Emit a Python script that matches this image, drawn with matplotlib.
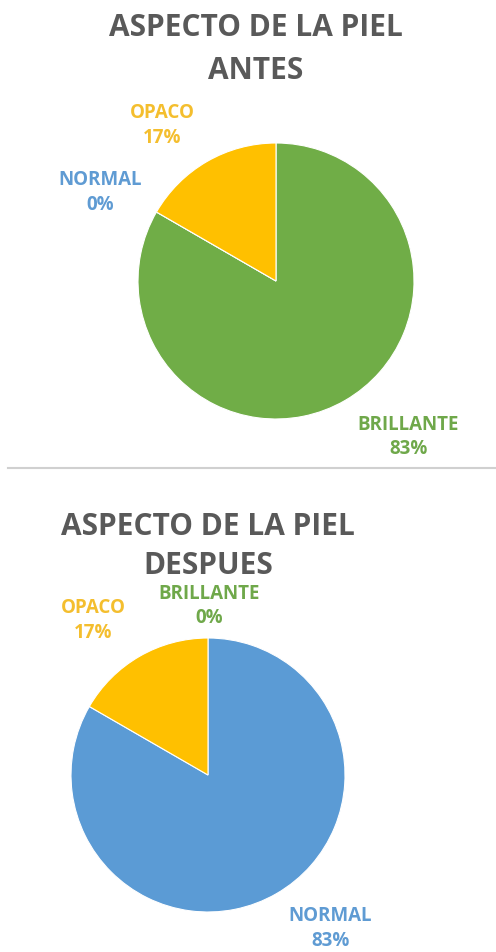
import matplotlib.pyplot as plt
from matplotlib.lines import Line2D

# datos (mismo orden que la hoja de Excel)
categorias = ["BRILLANTE", "NORMAL", "OPACO"]
antes = [83.33, 0.0, 16.67]
despues = [0.0, 83.33, 16.67]
colores = {"BRILLANTE": "#70AD47", "NORMAL": "#5B9BD5", "OPACO": "#FFC000"}
colores_txt = {"BRILLANTE": "#6FA84A", "NORMAL": "#5F9BD3", "OPACO": "#F4BE2E"}

plt.rcParams["font.family"] = ["Open Sans", "DejaVu Sans"]

W, H = 496, 952
fig = plt.figure(figsize=(W / 100, H / 100), dpi=100)


def eje_pie(cx, cy, r):
    # cuadrado en pixeles centrado en (cx, cy)
    return fig.add_axes([(cx - r) / W, (H - cy - r) / H, 2 * r / W, 2 * r / H])


def torta(ax, valores, pos_etiquetas):
    ax.pie(
        valores,
        colors=[colores[c] for c in categorias],
        startangle=90,
        counterclock=False,
        radius=1,
        wedgeprops=dict(linewidth=0.8, edgecolor="white"),
    )
    ax.set_xlim(-1, 1)
    ax.set_ylim(-1, 1)
    ax.set_aspect("auto")
    ax.axis("off")
    for cat, val in zip(categorias, valores):
        x, y = pos_etiquetas[cat]
        ax.text(x, y, f"{cat}\n{val:.0f}%", ha="center", va="center",
                fontsize=13.5, fontweight="bold", color=colores_txt[cat],
                linespacing=1.3, clip_on=False)


def titulo(cx, y1, y2, linea2):
    fig.text(cx / W, 1 - y1 / H, "ASPECTO DE LA PIEL", ha="center", va="center",
             fontsize=21.5, fontweight="bold", color="#595959")
    fig.text(cx / W, 1 - y2 / H, linea2, ha="center", va="center",
             fontsize=21.5, fontweight="bold", color="#595959")


# ANTES
ax1 = eje_pie(276, 281, 138)
torta(ax1, antes, {"BRILLANTE": (0.957, -1.13),
                   "NORMAL": (-1.275, 0.641),
                   "OPACO": (-0.826, 1.127)})
titulo(256, 28, 71, "ANTES")

# linea separadora
fig.add_artist(Line2D([8 / W, 1], [1 - 468 / H] * 2, color="#D0D0D0", lw=1.5))

# DESPUES
ax2 = eje_pie(208, 775, 137)
torta(ax2, despues, {"BRILLANTE": (0.007, 1.235),
                     "NORMAL": (0.891, -1.12),
                     "OPACO": (-0.839, 1.128)})
titulo(208, 527, 566, "DESPUES")

fig.savefig("out.png", dpi=100, facecolor="white")
